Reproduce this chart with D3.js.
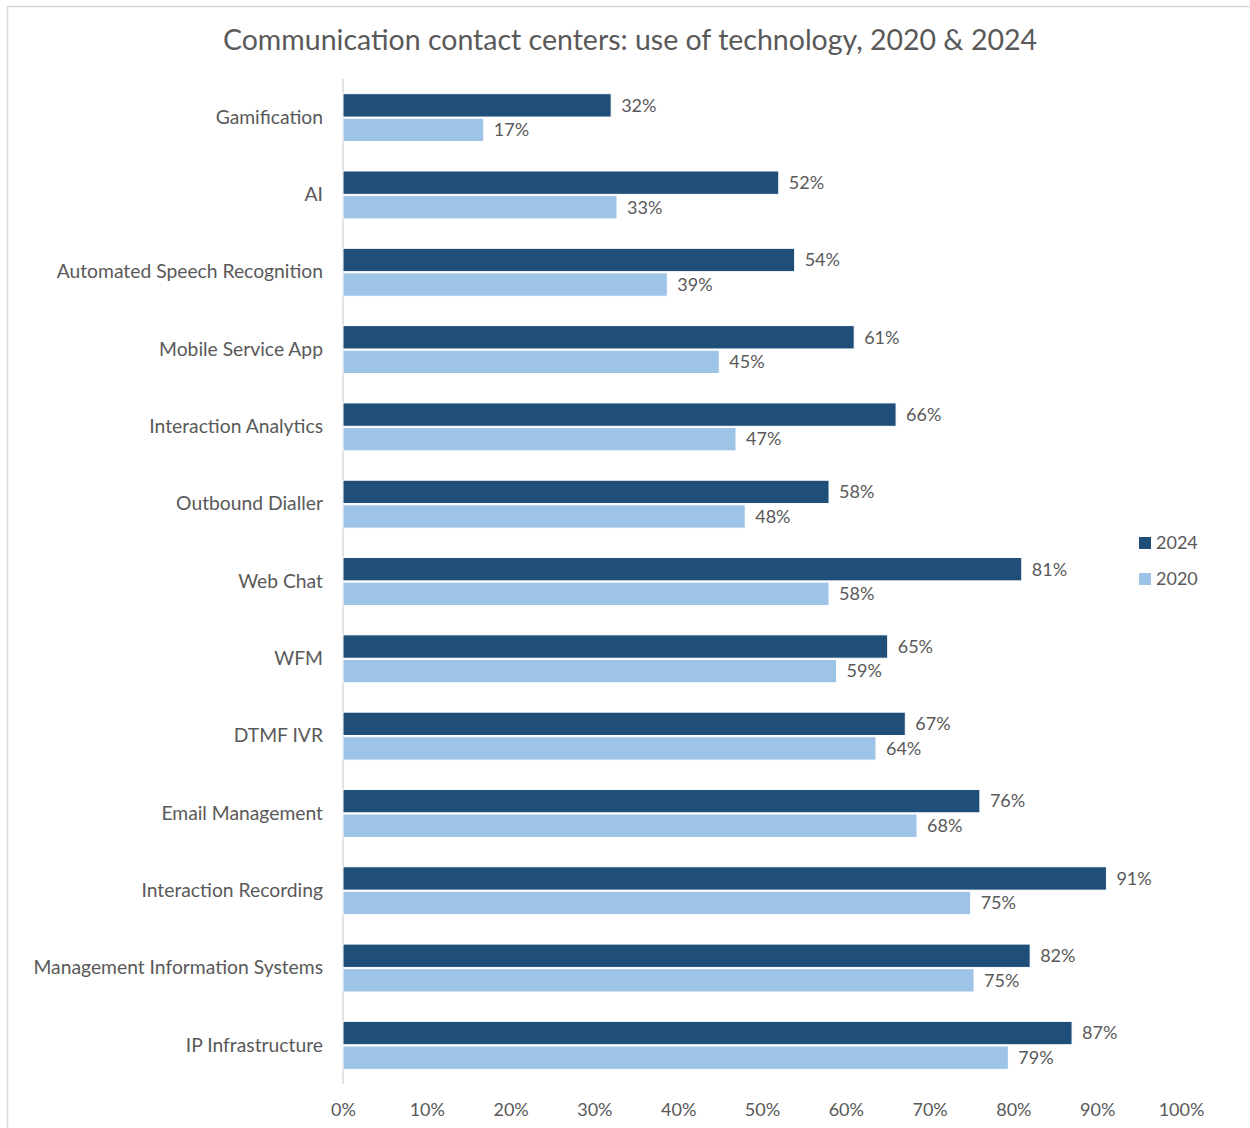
<!DOCTYPE html>
<html>
<head>
<meta charset="utf-8">
<script src="https://cdn.jsdelivr.net/npm/d3@7"></script>
<style>
  body { margin: 0; background: #fff; }
  text { font-family: Lato, "Open Sans", sans-serif; fill: #595959; }
</style>
</head>
<body>
<div id="chart"></div>
<script>
const categories = [
  "Gamification", "AI", "Automated Speech Recognition", "Mobile Service App",
  "Interaction Analytics", "Outbound Dialler", "Web Chat", "WFM", "DTMF IVR",
  "Email Management", "Interaction Recording", "Management Information Systems",
  "IP Infrastructure"
];
// bar lengths
const values2024 = [32, 52, 53.9, 61, 66, 58, 81, 65, 67.1, 76, 91.1, 82, 87];
const values2020 = [16.8, 32.7, 38.7, 44.9, 46.9, 48, 58, 58.9, 63.6, 68.5, 74.9, 75.3, 79.4];
// printed data labels
const labels2024 = [32, 52, 54, 61, 66, 58, 81, 65, 67, 76, 91, 82, 87];
const labels2020 = [17, 33, 39, 45, 47, 48, 58, 59, 64, 68, 75, 75, 79];
const seriesNames = ["2024", "2020"];
const tickValues = [0, 10, 20, 30, 40, 50, 60, 70, 80, 90, 100];

const colors = { "2024": "#1f4e79", "2020": "#9dc3e6" };

const rows = categories.map((c, i) => ({
  category: c,
  values: [
    { series: "2024", value: values2024[i], label: labels2024[i] },
    { series: "2020", value: values2020[i], label: labels2020[i] }
  ]
}));

const W = 1250, H = 1128;
const svg = d3.select("#chart").append("svg")
  .attr("width", W).attr("height", H);

// outer chart border (clipped at right/bottom like the source)
svg.append("rect")
  .attr("x", 7.5).attr("y", 6.5)
  .attr("width", W + 10).attr("height", H + 10)
  .attr("fill", "none").attr("stroke", "#d9d9d9").attr("stroke-width", 1.5);

svg.append("text")
  .attr("x", 630).attr("y", 40)
  .attr("dy", "0.35em")
  .attr("text-anchor", "middle")
  .attr("font-size", "28.5px")
  .text("Communication contact centers: use of technology, 2020 & 2024");

const x = d3.scaleLinear().domain([0, 100]).range([343, 1181]);

const y = d3.scaleBand()
  .domain(categories)
  .range([79, 1084])
  .paddingInner(0.38)
  .paddingOuter(0.19);

const ySub = d3.scaleBand()
  .domain(seriesNames)
  .range([0, y.bandwidth()])
  .paddingInner(0.05);

// vertical axis line
svg.append("line")
  .attr("x1", x(0)).attr("x2", x(0))
  .attr("y1", 79).attr("y2", 1084)
  .attr("stroke", "#d9d9d9").attr("stroke-width", 1.5);

const groups = svg.selectAll(".grp")
  .data(rows)
  .join("g")
  .attr("class", "grp")
  .attr("transform", (d) => `translate(0,${y(d.category)})`);

// Bars
groups.selectAll("rect")
  .data((d) => d.values)
  .join("rect")
  .attr("x", x(0))
  .attr("y", (d) => ySub(d.series))
  .attr("width", (d) => x(d.value) - x(0))
  .attr("height", ySub.bandwidth())
  .attr("fill", (d) => colors[d.series])
  .attr("stroke", "#fff")
  .attr("stroke-width", 1);

// Labels
groups.selectAll(".label")
  .data((d) => d.values)
  .join("text")
  .attr("class", "label")
  .attr("x", (d) => x(d.value) + 10)
  .attr("y", (d) => ySub(d.series) + ySub.bandwidth() / 2)
  .attr("dy", "0.35em")
  .attr("font-size", "18px")
  .text((d) => `${d.label}%`);

// Y axis
svg.append("g")
  .attr("transform", `translate(${x(0)},0)`)
  .call(d3.axisLeft(y).tickSize(0).tickPadding(20))
  .call((g) => g.select(".domain").remove())
  .selectAll("text")
  .attr("font-family", "Lato, 'Open Sans', sans-serif")
  .attr("fill", "#595959")
  .attr("font-size", "19.3px");

// X axis
svg.append("g")
  .attr("transform", `translate(0,1084)`)
  .call(d3.axisBottom(x).tickValues(tickValues).tickSize(0).tickPadding(19).tickFormat((d) => `${d}%`))
  .call((g) => g.select(".domain").remove())
  .selectAll("text")
  .attr("font-family", "Lato, 'Open Sans', sans-serif")
  .attr("fill", "#595959")
  .attr("font-size", "18px");

// Legend
const legend = svg.selectAll(".legend")
  .data(seriesNames)
  .join("g")
  .attr("class", "legend")
  .attr("transform", (d, i) => `translate(1139,${537 + i * 36})`);

legend.append("rect")
  .attr("width", 12).attr("height", 12)
  .attr("fill", (d) => colors[d]);

legend.append("text")
  .attr("x", 17).attr("y", 6)
  .attr("dy", "0.35em")
  .attr("font-size", "18px")
  .text((d) => d);
</script>
</body>
</html>
